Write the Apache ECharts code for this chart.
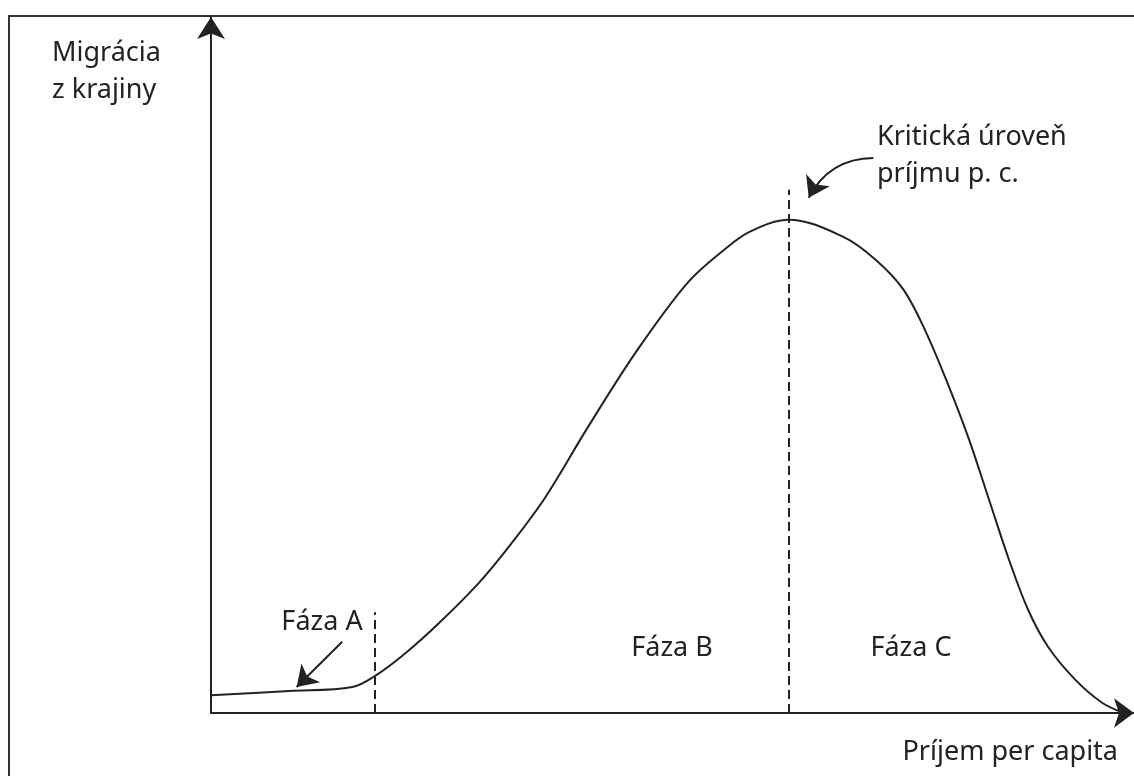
<!DOCTYPE html>
<html>
<head>
<meta charset="utf-8">
<script src="https://cdn.jsdelivr.net/npm/echarts@6/dist/echarts.min.js"></script>
<style>
  html, body { margin: 0; padding: 0; background: #fff; }
  #chart { width: 1134px; height: 776px; }
</style>
</head>
<body>
<div id="chart"></div>
<script>
// krivka migracie: x = prijem per capita, y = migracia (relativne jednotky)
const incomeX = [0, 8.6, 15.5, 18.1, 21.4, 25.0, 29.4, 33.0, 36.7, 41.4, 46.8, 52.3, 56.3, 59.2, 63.4,
                 69.4, 73.0, 76.0, 78.5, 81.0, 83.2, 85.4, 87.6, 89.7, 91.9, 94.9, 97.8, 100];
const migrationY = [2.6, 3.2, 3.8, 5.5, 8.8, 13.1, 19.0, 24.8, 31.5, 41.8, 53.0, 62.8, 67.6, 70.3, 72.0,
                    69.5, 66.1, 61.8, 55.5, 47.6, 39.9, 31.1, 22.3, 15.0, 9.6, 4.8, 1.5, 0.1];

// hranice faz (prerusovane ciary)
const phaseBorderX = [18.0, 63.4];
const phaseBorderTop = [14.7, 76.4];

// sipky popisov
const arrowA = [[14.4, 10.4], [9.4, 3.8]];
const arrowCrit = [[72.7, 81.0], [65.6, 75.2]];

const curve = incomeX.map((x, i) => [x, migrationY[i]]);

const myChart = echarts.init(document.getElementById('chart'));

const ink = '#222';
const font = '"Noto Sans", "DejaVu Sans", sans-serif';

const option = {
  animation: false,
  backgroundColor: '#fff',
  grid: { left: 211, right: -5, top: 17, bottom: 63 },
  xAxis: {
    type: 'value',
    min: 0,
    max: 101.3,
    axisLine: {
      lineStyle: { color: ink, width: 2 },
      symbol: ['none', 'arrow'],
      symbolSize: [22, 20]
    },
    axisTick: { show: false },
    axisLabel: { show: false },
    splitLine: { show: false }
  },
  yAxis: {
    type: 'value',
    min: 0,
    max: 101.6,
    axisLine: {
      show: true,
      lineStyle: { color: ink, width: 2 },
      symbol: ['none', 'arrow'],
      symbolSize: [21, 22]
    },
    axisTick: { show: false },
    axisLabel: { show: false },
    splitLine: { show: false }
  },
  series: [
    {
      type: 'line',
      data: curve,
      smooth: 0.35,
      symbol: 'none',
      lineStyle: { color: ink, width: 2 },
      markLine: {
        silent: true,
        symbol: 'none',
        label: { show: false },
        lineStyle: { color: ink, width: 2, type: [9, 5] },
        data: phaseBorderX.map((x, i) => [
          { coord: [x, 0] },
          { coord: [x, phaseBorderTop[i]] }
        ])
      }
    },
    {
      type: 'lines',
      coordinateSystem: 'cartesian2d',
      silent: true,
      symbol: ['none', 'arrow'],
      symbolSize: [15, 20],
      lineStyle: { color: ink, width: 2, opacity: 1 },
      data: [
        { coords: arrowA, lineStyle: { curveness: 0 } },
        { coords: arrowCrit, lineStyle: { curveness: -0.3 } }
      ]
    }
  ],
  graphic: [
    {
      type: 'rect',
      shape: { x: 9, y: 16, width: 1200, height: 800 },
      style: { fill: 'none', stroke: '#333', lineWidth: 2 },
      silent: true
    },
    { type: 'text', left: 52, top: 35, style: { text: 'Migrácia\nz krajiny', font: '27px ' + font, fill: ink, lineHeight: 37 } },
    { type: 'text', x: 322, y: 622, style: { text: 'Fáza A', font: '27px ' + font, fill: ink, align: 'center', verticalAlign: 'middle' } },
    { type: 'text', x: 672, y: 648, style: { text: 'Fáza B', font: '27px ' + font, fill: ink, align: 'center', verticalAlign: 'middle' } },
    { type: 'text', x: 911, y: 648, style: { text: 'Fáza C', font: '27px ' + font, fill: ink, align: 'center', verticalAlign: 'middle' } },
    { type: 'text', left: 877, top: 119, style: { text: 'Kritická úroveň\npríjmu p. c.', font: '27px ' + font, fill: ink, lineHeight: 37 } },
    { type: 'text', x: 1118, y: 752, style: { text: 'Príjem per capita', font: '27px ' + font, fill: ink, align: 'right', verticalAlign: 'middle' } }
  ]
};

option && myChart.setOption(option);
</script>
</body>
</html>
